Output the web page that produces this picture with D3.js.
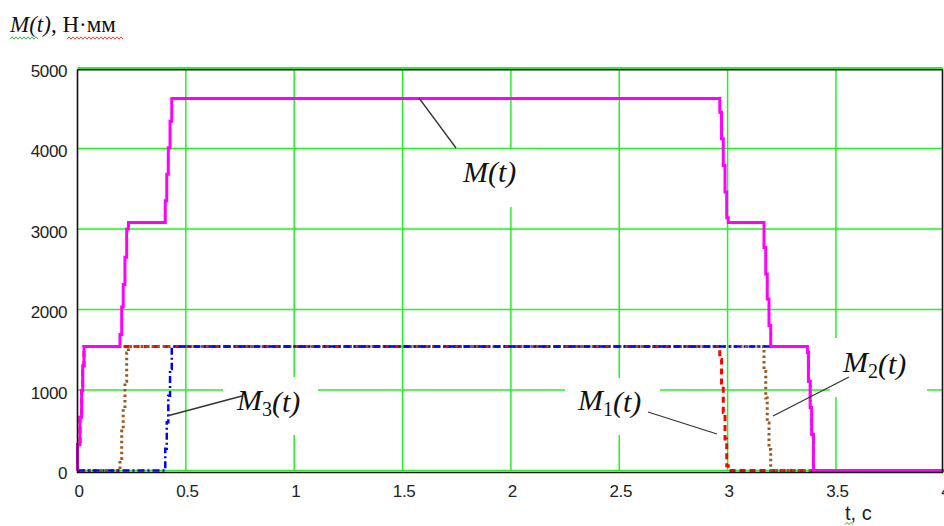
<!DOCTYPE html>
<html><head><meta charset="utf-8">
<script src="https://cdn.jsdelivr.net/npm/d3@7"></script>
<style>
html,body{margin:0;padding:0;background:#fff;overflow:hidden;}
svg{display:block;}
</style></head>
<body>
<svg id="chart" width="944" height="526"></svg>
<script>
// ---- data ----
const xTicks = [0, 0.5, 1, 1.5, 2, 2.5, 3, 3.5, 4];
const xTickLabels = ["0", "0.5", "1", "1.5", "2", "2.5", "3", "3.5", "4"];
const yTicks = [0, 1000, 2000, 3000, 4000, 5000];
const yTickLabels = ["0", "1000", "2000", "3000", "4000", "5000"];

// total moment M(t) (staircase, value changes at given time)
const tM = [0, 0, 0.0115, 0.019, 0.024, 0.030, 0.196, 0.204, 0.211, 0.219, 0.227, 0.235,
            0.405, 0.412, 0.419, 0.427, 0.435, 2.964, 2.972, 2.980, 2.988, 2.996, 3.003,
            3.168, 3.176, 3.183, 3.191, 3.199, 3.368, 3.373, 3.381, 3.388, 3.396, 4.0];
const vM = [0, 320, 660, 990, 1300, 1540, 1690, 2030, 2310, 2650, 3000, 3080,
            3350, 3680, 4010, 4340, 4620, 4450, 4120, 3790, 3460, 3140, 3080,
            2770, 2440, 2130, 1800, 1540, 1470, 1110, 780, 450, 0, 0];

// M1(t)
const tM1 = [0, 0, 0.0115, 0.019, 0.024, 0.030, 2.964, 2.972, 2.980, 2.988, 2.996, 3.003, 4.0];
const vM1 = [0, 320, 660, 990, 1300, 1540, 1380, 1050, 720, 390, 60, 0, 0];
// M2(t)
const tM2 = [0, 0.196, 0.204, 0.211, 0.219, 0.227, 0.235, 3.168, 3.176, 3.183, 3.191, 3.199, 4.0];
const vM2 = [0, 150, 490, 770, 1110, 1460, 1540, 1230, 900, 590, 260, 0, 0];
// M3(t)
const tM3 = [0, 0.405, 0.412, 0.419, 0.427, 0.435, 3.368, 3.373, 3.381, 3.388, 3.396, 4.0];
const vM3 = [0, 270, 600, 930, 1260, 1540, 1470, 1110, 780, 450, 0, 0];

// ---- drawing ----
const svg = d3.select("#chart");
const x = d3.scaleLinear().domain([0, 4]).range([77.5, 944.3]);
const y = d3.scaleLinear().domain([0, 5000]).range([470.5, 68]);

const G = "#1ff51f";

// grid
const grid = svg.append("g");
grid.selectAll("line.h").data(yTicks).join("line")
  .attr("x1", x(0)).attr("x2", x(4) - 1.5)
  .attr("y1", d => y(d)).attr("y2", d => y(d))
  .attr("stroke", G).attr("stroke-width", d => d === 5000 ? 2.2 : 1.5);
grid.selectAll("line.v").data(xTicks.filter(d => d > 0 && d < 4)).join("line")
  .attr("x1", d => x(d)).attr("x2", d => x(d))
  .attr("y1", y(5000)).attr("y2", y(0))
  .attr("stroke", G).attr("stroke-width", 1.5);

// white boxes behind annotation labels (they break the grid)
const boxes = [[441, 149, 96, 58], [223, 377, 95, 58], [565, 378, 95, 57], [830, 338, 97, 59]];
svg.append("g").selectAll("rect").data(boxes).join("rect")
  .attr("x", d => d[0]).attr("y", d => d[1]).attr("width", d => d[2]).attr("height", d => d[3])
  .attr("fill", "#fff");

const line = d3.line().x(d => x(d[0])).y(d => y(d[1])).curve(d3.curveStepAfter);
const zip = (t, v) => t.map((ti, i) => [ti, v[i]]);

svg.append("path").datum(zip(tM1, vM1)).attr("d", line)
  .attr("fill", "none").attr("stroke", "#ff0000").attr("stroke-width", 3)
  .attr("stroke-dasharray", "6,4");
svg.append("path").datum(zip(tM2, vM2)).attr("d", line)
  .attr("fill", "none").attr("stroke", "#9a5820").attr("stroke-width", 3)
  .attr("stroke-dasharray", "2.5,3");
svg.append("path").datum(zip(tM3, vM3)).attr("d", line)
  .attr("fill", "none").attr("stroke", "#0000ff").attr("stroke-width", 2.5)
  .attr("stroke-dasharray", "7,3,2,3");
svg.append("path").datum(zip(tM, vM)).attr("d", line)
  .attr("fill", "none").attr("stroke", "#ff00ff").attr("stroke-width", 3);

// frame
const fr = svg.append("g").attr("stroke", "#111").attr("stroke-width", 1.6);
fr.append("line").attr("x1", 77.5).attr("x2", 77.5).attr("y1", 69.5).attr("y2", 473);
fr.append("line").attr("x1", 77).attr("x2", 943).attr("y1", 472.5).attr("y2", 472.5);
fr.append("line").attr("x1", 77.5).attr("x2", 943).attr("y1", 69.8).attr("y2", 69.8);
fr.append("line").attr("x1", 942.5).attr("x2", 942.5).attr("y1", 69.5).attr("y2", 473);

// tick labels via axes
const tickFont = "'Liberation Sans', Arial, sans-serif";
const yAxis = d3.axisLeft(y).tickValues(yTicks).tickSize(0).tickPadding(0)
  .tickFormat((d, i) => yTickLabels[i]);
const ya = svg.append("g").attr("transform", "translate(67,0)").call(yAxis);
ya.select(".domain").remove();
ya.selectAll("text").attr("dy", "8").attr("y", 0)
  .attr("font-family", tickFont).attr("font-size", 17).attr("letter-spacing", "-0.4")
  .attr("fill", "#222").attr("dominant-baseline", "auto");

const xAxis = d3.axisBottom(x).tickValues(xTicks).tickSize(0).tickPadding(0)
  .tickFormat((d, i) => xTickLabels[i]);
const xa = svg.append("g").attr("transform", "translate(1,497)").call(xAxis);
xa.select(".domain").remove();
xa.selectAll("text").attr("y", 0).attr("dy", "0")
  .attr("font-family", tickFont).attr("font-size", 17).attr("letter-spacing", "-0.4")
  .attr("fill", "#222");

svg.append("text").attr("x", 845).attr("y", 520)
  .attr("font-family", tickFont).attr("font-size", 20).attr("fill", "#222")
  .text("t, c");

// title
const serif = "'Liberation Serif', 'Times New Roman', serif";
const title = svg.append("text").attr("x", 10).attr("y", 32)
  .attr("font-family", serif).attr("font-size", 23).attr("fill", "#111");
title.append("tspan").attr("font-style", "italic").text("M(t)");
title.append("tspan").text(", Н·мм");

// spell-check squiggles
function squiggle(x0, x1, yb, color) {
  const pts = [];
  let k = 0;
  for (let xx = x0; xx <= x1; xx += 2, k++) pts.push([xx, yb + (k % 2 ? -1.2 : 1.2)]);
  svg.append("path").attr("d", d3.line()(pts)).attr("fill", "none")
    .attr("stroke", color).attr("stroke-width", 1);
}
squiggle(10, 38, 38, "#3cb043");
squiggle(67, 124, 38, "#e8402f");
squiggle(845, 853, 523.5, "#3cb043");

// leader lines
const leaders = [[419, 98, 456, 148], [167, 416, 242, 396], [648, 412, 717, 434], [773, 416, 849, 377]];
svg.append("g").selectAll("line").data(leaders).join("line")
  .attr("x1", d => d[0]).attr("y1", d => d[1]).attr("x2", d => d[2]).attr("y2", d => d[3])
  .attr("stroke", "#333").attr("stroke-width", 1.3);

// annotation labels
const ann = [
  { x: 463, y: 182, sub: null },
  { x: 237, y: 410, sub: "3" },
  { x: 578, y: 410, sub: "1" },
  { x: 843, y: 372, sub: "2" }
];
ann.forEach(a => {
  const t = svg.append("text").attr("x", a.x).attr("y", a.y)
    .attr("font-family", serif).attr("font-size", 30).attr("fill", "#111");
  t.append("tspan").attr("font-style", "italic").text("M");
  if (a.sub) {
    t.append("tspan").attr("font-size", 20).attr("dy", 6).text(a.sub);
    t.append("tspan").attr("font-style", "italic").attr("dy", -4).text("(t)");
  } else {
    t.append("tspan").attr("font-style", "italic").text("(t)");
  }
});
</script>
</body></html>
